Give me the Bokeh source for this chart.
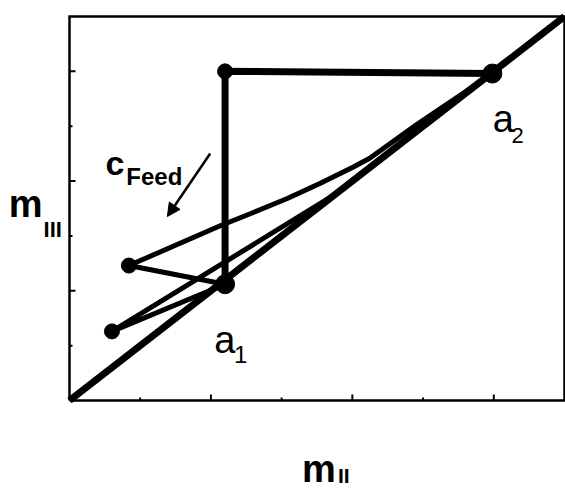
from bokeh.plotting import figure
from bokeh.models import Range1d, Arrow, NormalHead
from bokeh.core.properties import value
from bokeh.embed import file_html
from bokeh.resources import INLINE

# Operating-plane coordinates (m_II, m_III)
diag_x = [0.0, 3.5]
diag_y = [0.0, 3.5]

a1 = (1.10, 1.06)
a2 = (2.99, 2.98)
corner = (1.10, 3.00)
feed_x = [0.42, 0.30]
feed_y = [1.23, 0.63]

# rectangular path a1 -> corner -> a2
step_x = [1.10, 1.10, 2.99]
step_y = [1.06, 3.00, 2.98]

# upper feed point: straight to a1, curved boundary to a2
f1_a1_x = [0.42, 1.10]
f1_a1_y = [1.23, 1.06]
f1_a2_x = [0.42, 1.07, 1.30, 1.54, 1.77, 2.00, 2.12, 2.45, 2.99]
f1_a2_y = [1.23, 1.595, 1.714, 1.841, 1.978, 2.124, 2.206, 2.51, 2.98]

# lower feed point: straight to a1, line to a2
f2_a1_x = [0.30, 1.10]
f2_a1_y = [0.63, 1.06]
f2_a2_x = [0.30, 1.88, 2.99]
f2_a2_y = [0.63, 1.88, 2.98]

# axis box and ticks
axis_max = 3.5
major_ticks = [1.0, 2.0, 3.0]
minor_ticks = [0.5, 1.5, 2.5]

W, H = 565, 489
LEFT, RIGHT, TOP, BOTTOM = 69, 1, 16, 89
sx = (W - LEFT - RIGHT) / axis_max   # px per unit, x
sy = (H - TOP - BOTTOM) / axis_max   # px per unit, y

p = figure(width=W, height=H,
           x_range=Range1d(-LEFT / sx, axis_max + RIGHT / sx),
           y_range=Range1d(-BOTTOM / sy, axis_max + TOP / sy),
           x_axis_type=None, y_axis_type=None,
           output_backend="svg", toolbar_location=None, min_border=0)
p.grid.visible = False
p.outline_line_color = None

# box
p.line([0, axis_max, axis_max, 0, 0], [0, 0, axis_max, axis_max, 0],
       line_width=2.5, color="black", line_join="miter")
# inward ticks
maj_x_len, min_x_len = 6 / sy, 3 / sy
maj_y_len, min_y_len = 6 / sx, 3 / sx
p.segment(x0=major_ticks, y0=[0] * 3, x1=major_ticks, y1=[maj_x_len] * 3,
          line_width=2, color="black")
p.segment(x0=minor_ticks, y0=[0] * 3, x1=minor_ticks, y1=[min_x_len] * 3,
          line_width=2, color="black")
p.segment(x0=[0] * 3, y0=major_ticks, x1=[maj_y_len] * 3, y1=major_ticks,
          line_width=2, color="black")
p.segment(x0=[0] * 3, y0=minor_ticks, x1=[min_y_len] * 3, y1=minor_ticks,
          line_width=2, color="black")

p.line(diag_x, diag_y, line_width=7, color="black")
p.line(f1_a1_x, f1_a1_y, line_width=5, color="black")
p.line(f1_a2_x, f1_a2_y, line_width=5, color="black", line_join="round")
p.line(f2_a1_x, f2_a1_y, line_width=5, color="black")
p.line(f2_a2_x, f2_a2_y, line_width=5, color="black", line_join="round")
p.line(step_x, step_y, line_width=7, color="black", line_join="miter")

p.scatter([a1[0], a2[0]], [a1[1], a2[1]], size=19, color="black")
p.scatter([corner[0]], [corner[1]], size=15, color="black")
p.scatter(feed_x, feed_y, size=15, color="black")

p.add_layout(Arrow(end=NormalHead(size=13, fill_color="black", line_color="black"),
                   x_start=0.995, y_start=2.251, x_end=0.692, y_end=1.677,
                   line_width=2.5, line_color="black"))

FONT = "Liberation Sans"


def lab(x, y, t, size, bold=True):
    # y is the intended baseline; lift to compensate the svg text offset
    y_draw = y + 0.37 * size / sy
    p.text(x=[x], y=[y_draw], text=[t], text_font=value(FONT),
           text_font_size=f"{size}px",
           text_font_style="bold" if bold else "normal",
           text_baseline="alphabetic", text_align="left",
           text_color="black")


lab(0.254, 2.051, "c", 34)
lab(0.402, 1.960, "Feed", 24)
lab(1.023, 0.419, "a", 38, bold=False)
lab(1.164, 0.337, "1", 24, bold=False)
lab(2.992, 2.434, "a", 38, bold=False)
lab(3.126, 2.343, "2", 22, bold=False)
lab(-0.430, 1.659, "m", 38)
lab(-0.183, 1.486, "III", 22)
lab(1.644, -0.757, "m", 38)
lab(1.898, -0.757, "II", 21)

open("out.html", "w").write(file_html(p, INLINE))
